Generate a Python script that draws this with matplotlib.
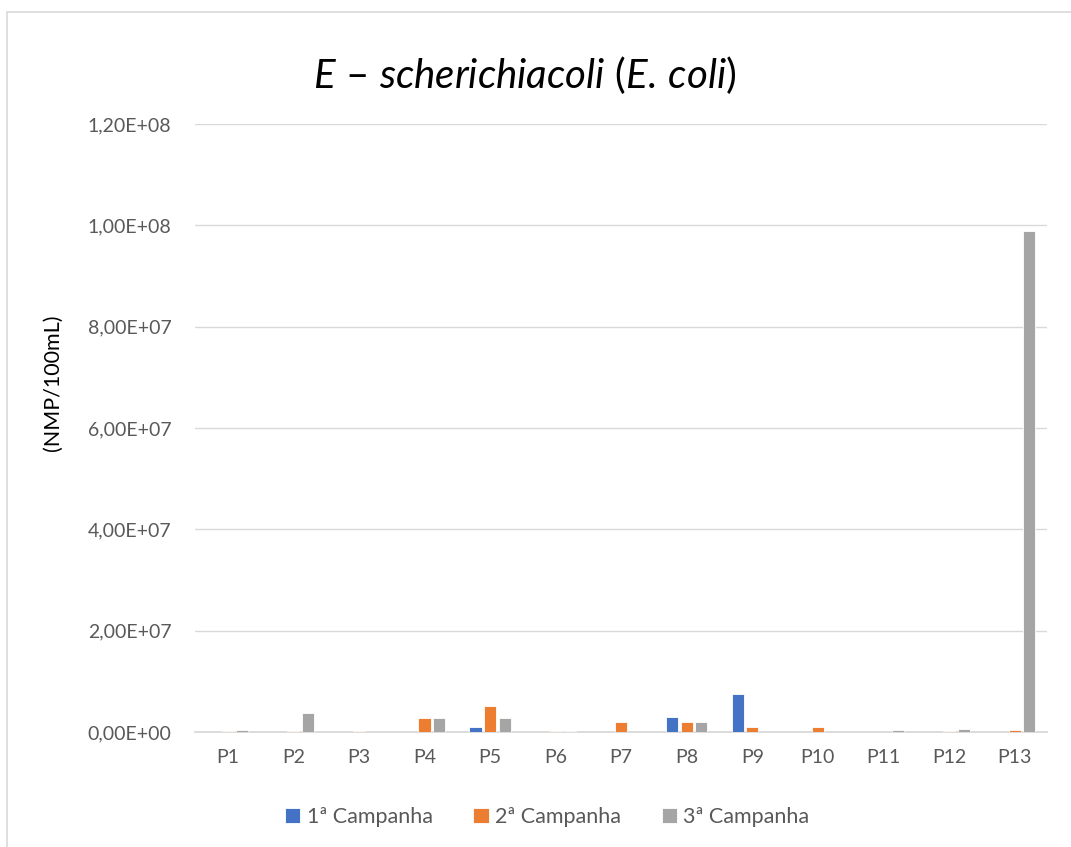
import matplotlib
matplotlib.use("Agg")
import matplotlib.pyplot as plt
from matplotlib.patches import Rectangle
from matplotlib.ticker import FuncFormatter, MultipleLocator
import numpy as np

# Sampling points and E. coli counts (NMP/100mL) per campaign
points = ["P1", "P2", "P3", "P4", "P5", "P6", "P7", "P8", "P9", "P10", "P11", "P12", "P13"]
campanha_1 = [0, 0, 0, 0, 9.0e5, 0, 0, 3.0e6, 7.5e6, 0, 0, 0, 0]
campanha_2 = [1.0e5, 1.0e5, 1.0e5, 2.75e6, 5.1e6, 1.0e5, 2.0e6, 2.0e6, 9.0e5, 9.0e5, 0, 1.0e5, 4.0e5]
campanha_3 = [3.5e5, 3.7e6, 5.0e4, 2.7e6, 2.8e6, 1.0e5, 0, 2.0e6, 0, 0, 4.0e5, 6.0e5, 9.88e7]
series_names = ["1ª Campanha", "2ª Campanha", "3ª Campanha"]
colors = ["#4472C4", "#ED7D31", "#A5A5A5"]

plt.rcParams["font.family"] = ["Lato", "DejaVu Sans"]
plt.rcParams["mathtext.fontset"] = "custom"
plt.rcParams["mathtext.rm"] = "Lato"
plt.rcParams["mathtext.it"] = "Lato:italic"

fig = plt.figure(figsize=(10.71, 8.47), dpi=100)
ax_left, ax_bottom, ax_w, ax_h = 0.182, 0.1358, 0.796, 0.7178
ax = fig.add_axes([ax_left, ax_bottom, ax_w, ax_h])

x = np.arange(len(points))
width = 0.185
offset = 0.222
for i, (vals, name, c) in enumerate(zip([campanha_1, campanha_2, campanha_3], series_names, colors)):
    ax.bar(x + (i - 1) * offset, vals, width, color=c, label=name,
           edgecolor="white", linewidth=0.6, zorder=3)

ax.set_xlim(-0.5, len(points) - 0.5)
ax.set_ylim(0, 1.2e8)
ax.yaxis.set_major_locator(MultipleLocator(2e7))


def sci_comma(v, pos):
    return f"{v:.2E}".replace(".", ",")


ax.yaxis.set_major_formatter(FuncFormatter(sci_comma))
ax.set_xticks(x)
ax.set_xticklabels(points)
ax.tick_params(axis="both", length=0, labelsize=14, colors="#595959")
ax.tick_params(axis="y", pad=17)
ax.tick_params(axis="x", pad=12)
ax.grid(axis="y", color="#D9D9D9", linewidth=1.0, zorder=0)
for side in ["top", "right", "left"]:
    ax.spines[side].set_visible(False)
ax.spines["bottom"].set_color("#D9D9D9")
ax.spines["bottom"].set_linewidth(1.3)

ax.set_ylabel("(NMP/100mL)", fontsize=15.5, color="#000000")
ax.yaxis.set_label_coords((63 - 195) / (1071 * ax_w), 0.575)

fig.text(0.49, 0.911, r"$\mathit{E\ –\ scherichiacoli}$ ($\mathit{E.\,coli}$)",
         ha="center", va="center", fontsize=29, color="#000000")

fig.legend(loc="center", bbox_to_anchor=(0.511, 1 - 817 / 847), ncol=3, frameon=False,
           fontsize=15.5, handlelength=0.7, handleheight=0.7, handletextpad=0.3,
           columnspacing=1.9, labelcolor="#595959")

# Chart area border
fig.patches.append(Rectangle((7 / 1071, -0.01), 1.2, 1 - 12 / 847 + 0.01,
                             transform=fig.transFigure, fill=False,
                             edgecolor="#D9D9D9", linewidth=1.2))

fig.savefig("out.png", dpi=100, facecolor="white")
